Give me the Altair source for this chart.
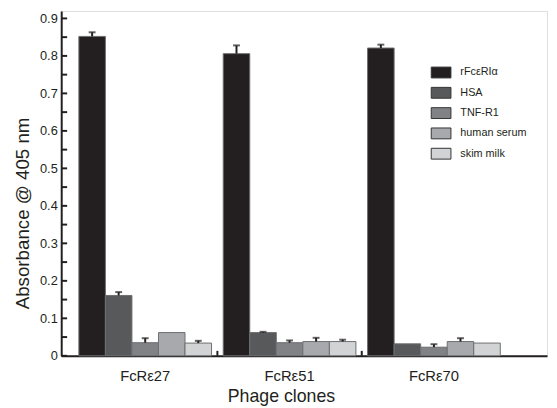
import altair as alt
import pandas as pd

groups = ["FcRε27", "FcRε51", "FcRε70"]
series = ["rFcεRIα", "HSA", "TNF-R1", "human serum", "skim milk"]
colors = ["#231f20", "#58595b", "#808285", "#a7a9ac", "#d1d3d4"]

values = {
    "FcRε27": [0.852, 0.161, 0.035, 0.062, 0.034],
    "FcRε51": [0.806, 0.062, 0.035, 0.038, 0.038],
    "FcRε70": [0.821, 0.032, 0.023, 0.038, 0.034],
}
err_top = {
    "FcRε27": [0.863, 0.170, 0.047, None, 0.040],
    "FcRε51": [0.828, 0.064, 0.041, 0.048, 0.043],
    "FcRε70": [0.830, None, 0.031, 0.047, None],
}
y_ticks = [round(i * 0.05, 2) for i in range(19)]
y_labels = [round(i * 0.1, 1) for i in range(10)]
divider_groups = ["FcRε51", "FcRε70"]

rows = []
for g in groups:
    for s, v, e in zip(series, values[g], err_top[g]):
        rows.append({"group": g, "series": s, "value": v, "err": e})
df = pd.DataFrame(rows)
err_df = df.dropna(subset=["err"])
tick_df = pd.DataFrame({"tv": y_ticks})
div_df = pd.DataFrame({"group": divider_groups})

TXT = "#231f20"
FONT = "Liberation Sans"

xscale = alt.Scale(domain=groups, paddingInner=0, paddingOuter=0.1826, align=0.224)
xoff_scale = alt.Scale(domain=series, paddingInner=0, paddingOuter=0.22)
yscale = alt.Scale(domain=[0, 0.92], nice=False, zero=True)

x_axis = alt.Axis(
    title="Phage clones", labelAngle=0, ticks=False, labelPadding=13,
    labelFontSize=15, titleFontSize=18, titleFontWeight="normal",
    domainWidth=2, domainColor=TXT, labelColor=TXT, titleColor=TXT,
    labelFont=FONT, titleFont=FONT, titleX=223, titleY=32, titleBaseline="top",
)
y_axis = alt.Axis(
    title="Absorbance @ 405 nm", values=y_labels, ticks=False, labelPadding=4,
    labelFontSize=13, titleFontSize=19, titleFontWeight="normal", grid=False,
    domainWidth=2, domainColor=TXT, labelColor=TXT, titleColor=TXT,
    labelFont=FONT, titleFont=FONT, titleX=-29, titleY=205, labelOverlap=False,
    labelExpr="datum.value == 0 ? '0' : format(datum.value, '.1f')",
)

def X(**kw):
    return alt.X("group:N", scale=xscale, sort=groups, axis=x_axis, **kw)

def XO():
    return alt.XOffset("series:N", scale=xoff_scale, sort=series)

def Y(field):
    return alt.Y(field, scale=yscale, axis=y_axis, title="Absorbance @ 405 nm")

bars = alt.Chart(df).mark_bar(stroke="#6d6e71", strokeWidth=1).encode(
    x=X(),
    xOffset=XO(),
    y=Y("value:Q"),
    color=alt.Color(
        "series:N", sort=series,
        scale=alt.Scale(domain=series, range=colors),
        legend=alt.Legend(
            title=None, orient="none", legendX=375, legendY=52,
            symbolType="M-1,-0.55L1,-0.55L1,0.55L-1,0.55Z", symbolSize=400,
            symbolStrokeColor="#333", symbolStrokeWidth=1, symbolOpacity=1,
            labelFontSize=11, labelColor=TXT, labelFont=FONT, labelOffset=9,
            rowPadding=2.6,
        ),
    ),
)

err_rule = alt.Chart(err_df).mark_rule(color=TXT, strokeWidth=2).encode(
    x=X(),
    xOffset=XO(),
    y=Y("value:Q"),
    y2="err:Q",
)
err_cap = alt.Chart(err_df).mark_tick(color=TXT, thickness=2, size=7, orient="horizontal").encode(
    x=X(),
    xOffset=XO(),
    y=Y("err:Q"),
)
yticks = alt.Chart(tick_df).mark_rule(color=TXT, strokeWidth=2).encode(
    x=alt.value(0),
    x2=alt.value(6),
    y=Y("tv:Q"),
)
dividers = alt.Chart(div_df).mark_rule(color=TXT, strokeWidth=2).encode(
    x=X(bandPosition=0),
    y=alt.value(345),
    y2=alt.value(350),
)

chart = alt.layer(bars, err_rule, err_cap, yticks, dividers).properties(
    width=493, height=350,
    autosize=alt.AutoSizeParams(type="none"),
    padding={"left": 54, "top": 0, "right": 2, "bottom": 50},
).configure_view(stroke=None).configure(background="white")

chart.save("out.html", embed_options={"renderer": "svg", "actions": False})
